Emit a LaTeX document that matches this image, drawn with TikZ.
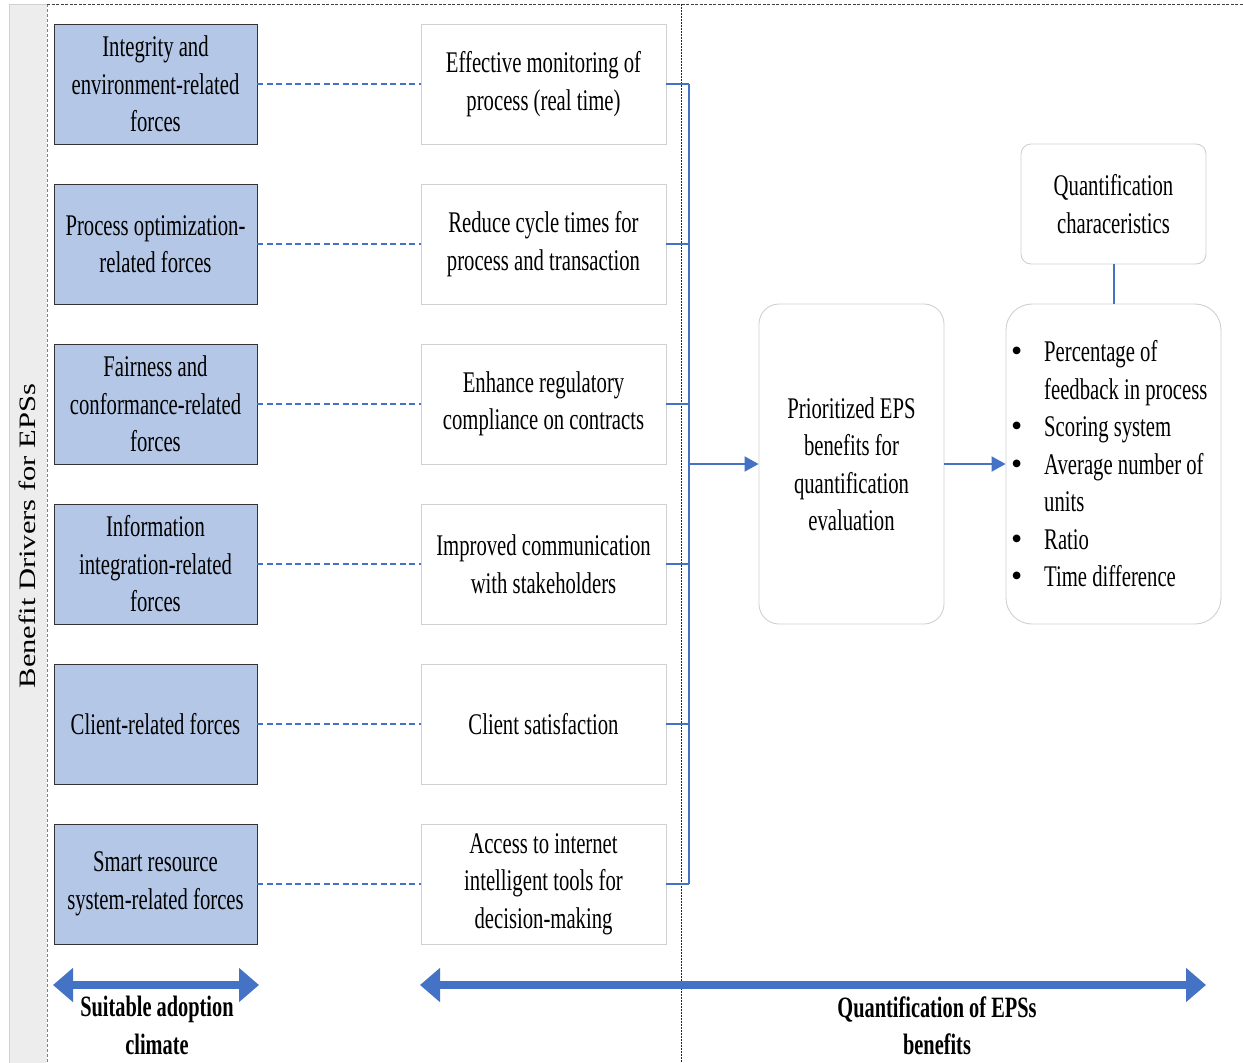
\documentclass[tikz,border=0pt]{standalone}
\usepackage{fontspec}
\setmainfont{Liberation Serif}
\newfontfamily\cond[FakeStretch=0.69]{Liberation Serif}
\newfontfamily\widefont[FakeStretch=1.3]{Liberation Serif}
\newfontfamily\plainserif{Liberation Serif}
\usetikzlibrary{arrows.meta}
\definecolor{bluefill}{HTML}{B4C7E7}
\definecolor{lineblue}{HTML}{4472C4}
\definecolor{stripgrey}{HTML}{EDEDED}
\definecolor{boxgrey}{HTML}{D0D0D0}
\newcommand{\bul}{\makebox[33pt][l]{\plainserif\fontsize{32}{32}\selectfont\textbullet}}
\tikzset{
  txt/.style={font=\cond\fontsize{30}{37.5}\selectfont, align=center, inner sep=0pt},
  lbox/.style={txt, draw=black!80, line width=0.9pt, fill=bluefill, minimum width=203pt, minimum height=120pt},
  mbox/.style={txt, draw=boxgrey, line width=0.9pt, fill=white, minimum width=245pt, minimum height=120pt},
  rbox/.style={txt, draw=boxgrey, line width=0.9pt, fill=white, rounded corners=#1},
  dashline/.style={lineblue, line width=1.5pt, dash pattern=on 6pt off 3.5pt},
  bline/.style={lineblue, line width=2pt},
  barrow/.style={lineblue, line width=2pt, -{Triangle[length=14pt,width=15pt]}},
  bigarrow/.style={lineblue, line width=8pt, {Triangle[length=20pt,width=33pt]}-{Triangle[length=20pt,width=33pt]}},
  lab/.style={font=\cond\bfseries\fontsize{29.5}{37.5}\selectfont, align=center, inner sep=0pt}
}
\begin{document}
\begin{tikzpicture}[x=1pt,y=-1pt]
\useasboundingbox (0,0) rectangle (1243,1063);
% background strip and dividers
\fill[stripgrey] (9,4) rectangle (47,1063);
\draw[boxgrey, line width=0.8pt] (9,1063) -- (9,4) -- (47,4);
\draw[gray, line width=0.8pt, dash pattern=on 3pt off 2pt] (47,4) -- (47,1063);
\draw[darkgray, line width=0.8pt, dash pattern=on 3pt off 1.5pt] (47,4) -- (1243,4);
\draw[black!85, line width=0.8pt, dash pattern=on 2pt off 1pt] (681,4) -- (681,1063);
\node[rotate=90, inner sep=0pt] (vl) at (27,536) {\widefont\fontsize{23.5}{23.5}\selectfont Benefit Drivers for EPSs};
% left boxes
\node[lbox] (l1) at (155.5,84) {Integrity and\\environment-related\\forces};
\node[lbox] (l2) at (155.5,244) {Process optimization-\\related forces};
\node[lbox] (l3) at (155.5,404) {Fairness and\\conformance-related\\forces};
\node[lbox] (l4) at (155.5,564) {Information\\integration-related\\forces};
\node[lbox] (l5) at (155.5,724) {Client-related forces};
\node[lbox] (l6) at (155.5,884) {Smart resource\\system-related forces};
% middle boxes
\node[mbox] (m1) at (543.5,84) {Effective monitoring of\\process (real time)};
\node[mbox] (m2) at (543.5,244) {Reduce cycle times for\\process and transaction};
\node[mbox] (m3) at (543.5,404) {Enhance regulatory\\compliance on contracts};
\node[mbox] (m4) at (543.5,564) {Improved communication\\with stakeholders};
\node[mbox] (m5) at (543.5,724) {Client satisfaction};
\node[mbox] (m6) at (543.5,884) {Access to internet\\intelligent tools for\\decision-making};
% dashed links
\foreach \i in {1,...,6} {\draw[dashline] (l\i.east) -- (m\i.west);}
% bracket
\coordinate (bt) at (689,84);
\coordinate (bb) at (689,884);
\coordinate (bm) at (689,464);
\foreach \i in {1,...,6} {\draw[bline] (m\i.east) -- (m\i.east -| bt);}
\draw[bline] (bt) -- (bb);
% right side
\node[rbox=20pt, minimum width=185pt, minimum height=320pt] (p) at (851.5,464) {Prioritized EPS\\benefits for\\quantification\\evaluation};
\node[rbox=26pt, minimum width=215pt, minimum height=320pt] (r) at (1113.5,464) {};
\node[rbox=10pt, minimum width=185pt, minimum height=120pt] (q) at (1113.5,204) {Quantification\\characeristics};
\node[txt, align=left, anchor=west] (rl) at (1011,464) {%
\bul Percentage of\\
\hspace*{33pt}feedback in process\\
\bul Scoring system\\
\bul Average number of\\
\hspace*{33pt}units\\
\bul Ratio\\
\bul Time difference};
\draw[barrow] (bm) -- (p.west);
\draw[barrow] (p.east) -- (r.west);
\draw[bline] (q.south) -- (r.north);
% bottom arrows
\coordinate (a1) at (53,985);
\coordinate (a2) at (259,985);
\coordinate (a3) at (420,985);
\coordinate (a4) at (1206,985);
\draw[bigarrow] (a1) -- (a2);
\draw[bigarrow] (a3) -- (a4);
\node[lab] (s1) at (157,1025.5) {Suitable adoption\\climate};
\node[lab] (s2) at (937,1025.5) {Quantification of EPSs\\benefits};
\end{tikzpicture}
\end{document}
